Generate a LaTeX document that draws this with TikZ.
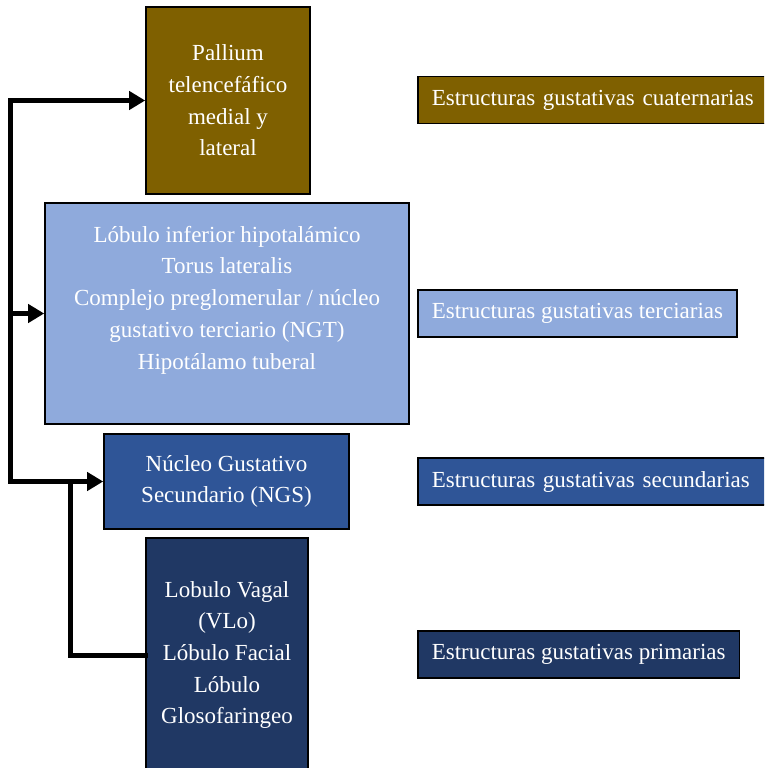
\documentclass[tikz,border=0pt]{standalone}
\usepackage{fontspec}
\setmainfont{Liberation Serif}
\usetikzlibrary{arrows.meta,positioning}
\definecolor{cuatcol}{HTML}{7F6000}
\definecolor{tercol}{HTML}{8FAADC}
\definecolor{seccol}{HTML}{2F5597}
\definecolor{primcol}{HTML}{203864}

\begin{document}
\begin{tikzpicture}[x=1pt, y=-1pt,
        box/.style={rectangle, draw=black, line width=1.6pt, text=white, align=center, font=\fontsize{23}{31.7}\selectfont, inner sep=0pt},
        tag/.style={box, anchor=west, inner xsep=14pt, minimum height=47pt},
        txt/.style={text=white, align=center, font=\fontsize{23}{31.7}\selectfont},
        wire/.style={line width=5pt, line cap=rect},
        link/.style={wire, -{Triangle[length=16pt,width=18pt]}},
    ]
        \useasboundingbox (0,0) rectangle (764,768);
        \clip (0,0) rectangle (764,768);

        % Pallium - cuaternarias
        \node[box, fill=cuatcol, minimum width=164pt, minimum height=187pt] (pall) at (228,100.5) {Pallium\\telencef\'afico\\medial y\\lateral};
        \node[tag, fill=cuatcol, align=left, text width=330pt] (cuat) at (417,100) {Estructuras gustativas cuaternarias};

        % Terciarias
        \node[box, fill=tercol, minimum width=364pt, minimum height=221pt] (terc) at (227,313.5) {};
        \node[txt] (tercT) at (227,300) {L\'obulo inferior hipotal\'amico\\Torus lateralis\\Complejo preglomerular / n\'ucleo\\gustativo terciario (NGT)\\Hipot\'alamo tuberal};
        \node[tag, fill=tercol] (tertag) at (417,313.5) {Estructuras gustativas terciarias};

        % Secundarias
        \node[box, fill=seccol, minimum width=245pt, minimum height=95pt] (ngs) at (226.5,481.5) {N\'ucleo Gustativo\\Secundario (NGS)};
        \node[tag, fill=seccol, align=left, text width=330pt] (sectag) at (417,481.5) {Estructuras gustativas secundarias};

        % Primarias
        \node[box, fill=primcol, minimum width=162pt, minimum height=234pt] (prim) at (227,655) {Lobulo Vagal\\(VLo)\\L\'obulo Facial\\L\'obulo\\Glosofaringeo};
        \node[tag, fill=primcol] (primtag) at (417,654.5) {Estructuras gustativas primarias};

        % Conexiones
        \coordinate (trunk) at (10,481.5);
        \coordinate (branch) at (70,481.5);
        \draw[link] (trunk) |- (pall.west);
        \draw[link] (trunk |- terc.west) -- (terc.west);
        \draw[link] (trunk) -- (ngs.west);
        \draw[wire] (prim.west) -| (branch);
    \end{tikzpicture}
\end{document}
